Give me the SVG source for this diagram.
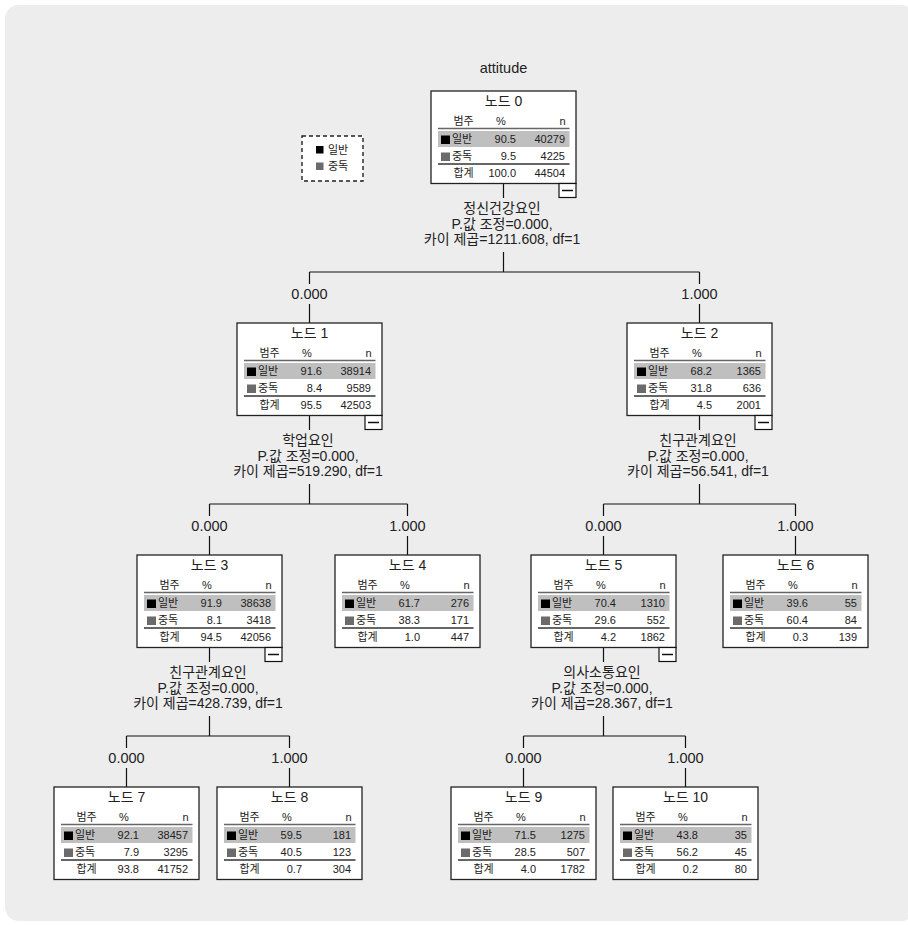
<svg xmlns="http://www.w3.org/2000/svg" width="908" height="925" viewBox="0 0 908 925">
<defs>
<style>
text{font-family:"Liberation Sans","Noto Sans CJK KR",sans-serif;fill:#222}
.bg{fill:#ededed}
.box{fill:#fff;stroke:#222;stroke-width:1.3}
.band{fill:#bfbfbf}
.hl{stroke:#666;stroke-width:1.6}
.sl{stroke:#333;stroke-width:1.4}
.t{font-size:14px;text-anchor:middle}
.c{font-size:11px}
.m{text-anchor:middle}
.r{text-anchor:end}
.k1{fill:#000}
.k2{fill:#6b6b6b}
.mb{fill:#fff;stroke:#111;stroke-width:1.2}
.mn{stroke:#111;stroke-width:1.5}
.cn{stroke:#111;stroke-width:1.2;fill:none}
.lab{font-size:14px;text-anchor:middle}
.br{font-size:14.5px;text-anchor:middle}
.leg{fill:#fff;stroke:#222;stroke-width:1.4;stroke-dasharray:4 3}
</style>
<g id="tbl">
<text class="c m" x="32.5" y="33.5">범주</text>
<text class="c m" x="70" y="33.5">%</text>
<text class="c r" x="134.5" y="33.5">n</text>
<line class="hl" x1="7" y1="37.5" x2="138.5" y2="37.5"/>
<rect class="band" x="7" y="40" width="131.5" height="16"/>
<rect class="k1" x="10" y="44.5" width="9" height="8.5"/>
<text class="c" x="21" y="52">일반</text>
<rect class="k2" x="10" y="61.5" width="9" height="8.5"/>
<text class="c" x="21" y="69">중독</text>
<line class="sl" x1="7" y1="73" x2="138.5" y2="73"/>
<text class="c m" x="32.5" y="86">합계</text>
</g>
<g id="minus">
<rect class="mb" x="128" y="92.5" width="17" height="14"/>
<line class="mn" x1="131" y1="99.5" x2="142" y2="99.5"/>
</g>
</defs>
<rect class="bg" x="5" y="5" width="910" height="916" rx="14"/>
<text x="503.5" y="72.5" style="font-size:14.5px;text-anchor:middle">attitude</text>
<g id="legend">
<rect class="leg" x="302" y="136" width="61" height="45"/>
<rect class="k1" x="316" y="146" width="7.5" height="7.5"/>
<text class="c" x="328" y="153.5">일반</text>
<rect class="k2" x="316" y="162.5" width="7.5" height="7.5"/>
<text class="c" x="328" y="170">중독</text>
</g>
<g id="connectors">
<path class="cn" d="M503.5 183.5V198M503.5 252V272M309.5 272H699.5M309.5 272V284M309.5 304V323M699.5 272V284M699.5 304V323"/>
<path class="cn" d="M309.5 415.5V430M309.5 484V504M209.5 504H407.5M209.5 504V516M209.5 536V555M407.5 504V516M407.5 536V555"/>
<path class="cn" d="M699.5 415.5V430M699.5 484V504M603.5 504H795.5M603.5 504V516M603.5 536V555M795.5 504V516M795.5 536V555"/>
<path class="cn" d="M209.5 647.5V662M209.5 716V736M126.5 736H289.5M126.5 736V748M126.5 768V787M289.5 736V748M289.5 768V787"/>
<path class="cn" d="M603.5 647.5V662M603.5 716V736M523.5 736H685.5M523.5 736V748M523.5 768V787M685.5 736V748M685.5 768V787"/>
<text class="lab" x="502" y="213">정신건강요인</text>
<text class="lab" x="502" y="228.5">P.값 조정=0.000,</text>
<text class="lab" x="502" y="244">카이 제곱=1211.608, df=1</text>
<text class="br" x="309.5" y="299">0.000</text>
<text class="br" x="699.5" y="299">1.000</text>
<text class="lab" x="308" y="445">학업요인</text>
<text class="lab" x="308" y="460.5">P.값 조정=0.000,</text>
<text class="lab" x="308" y="476">카이 제곱=519.290, df=1</text>
<text class="br" x="209.5" y="531">0.000</text>
<text class="br" x="407.5" y="531">1.000</text>
<text class="lab" x="698" y="445">친구관계요인</text>
<text class="lab" x="698" y="460.5">P.값 조정=0.000,</text>
<text class="lab" x="698" y="476">카이 제곱=56.541, df=1</text>
<text class="br" x="603.5" y="531">0.000</text>
<text class="br" x="795.5" y="531">1.000</text>
<text class="lab" x="208" y="677">친구관계요인</text>
<text class="lab" x="208" y="692.5">P.값 조정=0.000,</text>
<text class="lab" x="208" y="708">카이 제곱=428.739, df=1</text>
<text class="br" x="126.5" y="763">0.000</text>
<text class="br" x="289.5" y="763">1.000</text>
<text class="lab" x="602" y="677">의사소통요인</text>
<text class="lab" x="602" y="692.5">P.값 조정=0.000,</text>
<text class="lab" x="602" y="708">카이 제곱=28.367, df=1</text>
<text class="br" x="523.5" y="763">0.000</text>
<text class="br" x="685.5" y="763">1.000</text>
</g>
<g id="node0" transform="translate(431,91)">
<rect class="box" x="0" y="0" width="145" height="92.5"/>
<text class="t" x="72.5" y="15">노드 0</text>
<use href="#tbl"/>
<text class="c r" x="85" y="52">90.5</text><text class="c r" x="134" y="52">40279</text>
<text class="c r" x="85" y="69">9.5</text><text class="c r" x="134" y="69">4225</text>
<text class="c r" x="85" y="86">100.0</text><text class="c r" x="134" y="86">44504</text>
<use href="#minus"/>
</g>
<g id="node1" transform="translate(237,323)">
<rect class="box" x="0" y="0" width="145" height="92.5"/>
<text class="t" x="72.5" y="15">노드 1</text>
<use href="#tbl"/>
<text class="c r" x="85" y="52">91.6</text><text class="c r" x="134" y="52">38914</text>
<text class="c r" x="85" y="69">8.4</text><text class="c r" x="134" y="69">9589</text>
<text class="c r" x="85" y="86">95.5</text><text class="c r" x="134" y="86">42503</text>
<use href="#minus"/>
</g>
<g id="node2" transform="translate(627,323)">
<rect class="box" x="0" y="0" width="145" height="92.5"/>
<text class="t" x="72.5" y="15">노드 2</text>
<use href="#tbl"/>
<text class="c r" x="85" y="52">68.2</text><text class="c r" x="134" y="52">1365</text>
<text class="c r" x="85" y="69">31.8</text><text class="c r" x="134" y="69">636</text>
<text class="c r" x="85" y="86">4.5</text><text class="c r" x="134" y="86">2001</text>
<use href="#minus"/>
</g>
<g id="node3" transform="translate(137,555)">
<rect class="box" x="0" y="0" width="145" height="92.5"/>
<text class="t" x="72.5" y="15">노드 3</text>
<use href="#tbl"/>
<text class="c r" x="85" y="52">91.9</text><text class="c r" x="134" y="52">38638</text>
<text class="c r" x="85" y="69">8.1</text><text class="c r" x="134" y="69">3418</text>
<text class="c r" x="85" y="86">94.5</text><text class="c r" x="134" y="86">42056</text>
<use href="#minus"/>
</g>
<g id="node4" transform="translate(335,555)">
<rect class="box" x="0" y="0" width="145" height="92.5"/>
<text class="t" x="72.5" y="15">노드 4</text>
<use href="#tbl"/>
<text class="c r" x="85" y="52">61.7</text><text class="c r" x="134" y="52">276</text>
<text class="c r" x="85" y="69">38.3</text><text class="c r" x="134" y="69">171</text>
<text class="c r" x="85" y="86">1.0</text><text class="c r" x="134" y="86">447</text>
</g>
<g id="node5" transform="translate(531,555)">
<rect class="box" x="0" y="0" width="145" height="92.5"/>
<text class="t" x="72.5" y="15">노드 5</text>
<use href="#tbl"/>
<text class="c r" x="85" y="52">70.4</text><text class="c r" x="134" y="52">1310</text>
<text class="c r" x="85" y="69">29.6</text><text class="c r" x="134" y="69">552</text>
<text class="c r" x="85" y="86">4.2</text><text class="c r" x="134" y="86">1862</text>
<use href="#minus"/>
</g>
<g id="node6" transform="translate(723,555)">
<rect class="box" x="0" y="0" width="145" height="92.5"/>
<text class="t" x="72.5" y="15">노드 6</text>
<use href="#tbl"/>
<text class="c r" x="85" y="52">39.6</text><text class="c r" x="134" y="52">55</text>
<text class="c r" x="85" y="69">60.4</text><text class="c r" x="134" y="69">84</text>
<text class="c r" x="85" y="86">0.3</text><text class="c r" x="134" y="86">139</text>
</g>
<g id="node7" transform="translate(54,787)">
<rect class="box" x="0" y="0" width="145" height="92.5"/>
<text class="t" x="72.5" y="15">노드 7</text>
<use href="#tbl"/>
<text class="c r" x="85" y="52">92.1</text><text class="c r" x="134" y="52">38457</text>
<text class="c r" x="85" y="69">7.9</text><text class="c r" x="134" y="69">3295</text>
<text class="c r" x="85" y="86">93.8</text><text class="c r" x="134" y="86">41752</text>
</g>
<g id="node8" transform="translate(217,787)">
<rect class="box" x="0" y="0" width="145" height="92.5"/>
<text class="t" x="72.5" y="15">노드 8</text>
<use href="#tbl"/>
<text class="c r" x="85" y="52">59.5</text><text class="c r" x="134" y="52">181</text>
<text class="c r" x="85" y="69">40.5</text><text class="c r" x="134" y="69">123</text>
<text class="c r" x="85" y="86">0.7</text><text class="c r" x="134" y="86">304</text>
</g>
<g id="node9" transform="translate(451,787)">
<rect class="box" x="0" y="0" width="145" height="92.5"/>
<text class="t" x="72.5" y="15">노드 9</text>
<use href="#tbl"/>
<text class="c r" x="85" y="52">71.5</text><text class="c r" x="134" y="52">1275</text>
<text class="c r" x="85" y="69">28.5</text><text class="c r" x="134" y="69">507</text>
<text class="c r" x="85" y="86">4.0</text><text class="c r" x="134" y="86">1782</text>
</g>
<g id="node10" transform="translate(613,787)">
<rect class="box" x="0" y="0" width="145" height="92.5"/>
<text class="t" x="72.5" y="15">노드 10</text>
<use href="#tbl"/>
<text class="c r" x="85" y="52">43.8</text><text class="c r" x="134" y="52">35</text>
<text class="c r" x="85" y="69">56.2</text><text class="c r" x="134" y="69">45</text>
<text class="c r" x="85" y="86">0.2</text><text class="c r" x="134" y="86">80</text>
</g>
</svg>
